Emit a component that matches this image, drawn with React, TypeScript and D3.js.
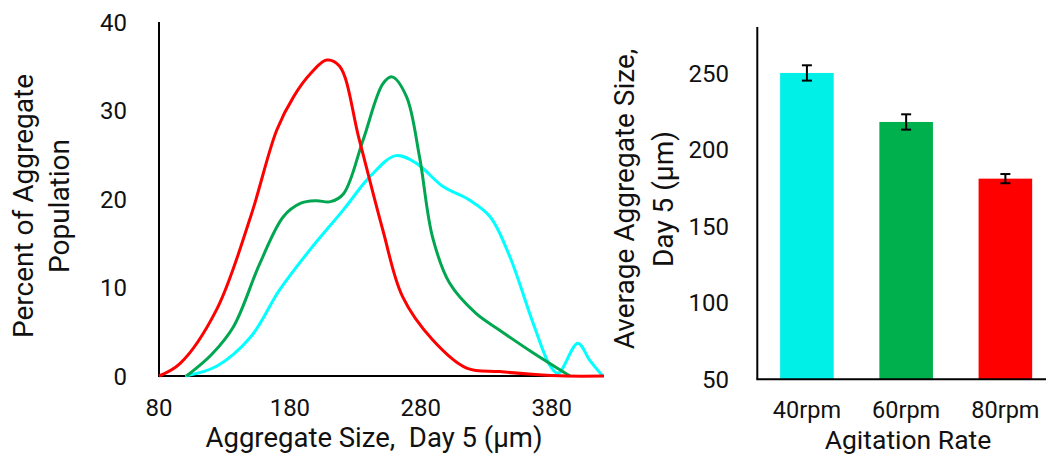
import React from "react";
import * as d3 from "d3";

// ---------- Left chart data: size distribution (Day 5) ----------
const xTicks = [80, 180, 280, 380];
const yTicksLeft = [0, 10, 20, 30, 40];

const sizes40 = [100, 124, 150, 172, 195, 221, 241, 261, 277, 297, 317, 333, 348, 366, 379, 385, 400, 409, 419];
const pct40 = [0, 1.1, 4.4, 9.7, 14.2, 18.8, 22.5, 24.9, 24, 21.4, 19.9, 18, 13.5, 5.9, 1.1, 0.3, 3.7, 1.8, 0];

const sizes60 = [101, 120, 137, 157, 175, 188, 200, 211, 221, 236, 251, 258, 269, 279, 289, 302, 322, 340, 366, 394];
const pct60 = [0, 2.4, 5.6, 12.7, 18, 19.5, 19.8, 19.7, 20.6, 26.7, 33, 33.8, 31.6, 24.8, 15.7, 10.5, 7.1, 5.2, 2.6, 0];

const sizes80 = [80, 96, 124, 150, 170, 183, 196, 208, 218, 233, 251, 266, 289, 315, 340, 365, 391, 420];
const pct80 = [0, 1.4, 7.5, 18, 27.8, 31.6, 34.2, 35.7, 35, 26.7, 16.5, 9, 4.1, 0.9, 0.5, 0.2, 0, 0];

// ---------- Right chart data: average size by agitation rate ----------
const rates = ["40rpm", "60rpm", "80rpm"];
const avgSize = [250, 218, 181];
const avgErr = [5, 5, 3];
const yTicksRight = [50, 100, 150, 200, 250];

const COLORS = { c40: "#00FFFF", c60: "#00A650", c80: "#FF0000" };
const BAR_COLORS = ["#00F0E8", "#00B04C", "#FF0000"];
const FONT = "Roboto, 'Noto Sans', sans-serif";

export default function App() {
  const W = 1046, H = 457;

  // left scales
  const x = d3.scaleLinear().domain([80, 420]).range([159, 604]);
  const y = d3.scaleLinear().domain([0, 40]).range([376, 22]);
  const line = d3
    .line<[number, number]>()
    .x((d) => x(d[0]))
    .y((d) => Math.min(y(0), y(d[1])))
    .curve(d3.curveCatmullRom.alpha(0.5));
  const series = [
    { xs: sizes40, ys: pct40, color: COLORS.c40 },
    { xs: sizes60, ys: pct60, color: COLORS.c60 },
    { xs: sizes80, ys: pct80, color: COLORS.c80 },
  ];

  // right scales
  const xb = d3.scaleBand().domain(rates).range([757.3, 1055]).paddingInner(0.46).paddingOuter(0.23);
  const yb = d3.scaleLinear().domain([50, 280]).range([379.3, 27]);

  return (
    <svg width={W} height={H} style={{ position: "absolute", left: 0, top: 0, background: "#fff" }} fontFamily={FONT}>
      <rect x={0} y={0} width={W} height={H} fill="#fff" />
      {/* ----- left chart ----- */}
      <g>
        {yTicksLeft.map((t) => (
          <text key={t} x={127} y={y(t)} dy="0.36em" textAnchor="end" fontSize={24} fill="#111">
            {t}
          </text>
        ))}
        {xTicks.map((t) => (
          <text key={t} x={x(t)} y={416} textAnchor="middle" fontSize={24} fill="#111">
            {t}
          </text>
        ))}
        <text x={374} y={447} textAnchor="middle" fontSize={27.5} fill="#111">
          {"Aggregate Size,\u00A0 Day 5 (µm)"}
        </text>
        <text transform="translate(33,206) rotate(-90)" textAnchor="middle" fontSize={28} fill="#111">
          Percent of Aggregate
        </text>
        <text transform="translate(69,206) rotate(-90)" textAnchor="middle" fontSize={28} fill="#111">
          Population
        </text>
        <line x1={159} x2={159} y1={y(40)} y2={y(0)} stroke="#000" strokeWidth={2} />
        <line x1={158} x2={604} y1={y(0)} y2={y(0)} stroke="#000" strokeWidth={2} />
        {series.map((s, i) => (
          <path
            key={i}
            d={line(s.xs.map((v, j) => [v, s.ys[j]] as [number, number])) || ""}
            fill="none"
            stroke={s.color}
            strokeWidth={3}
            strokeLinejoin="round"
          />
        ))}
      </g>
      {/* ----- right chart ----- */}
      <g>
        {yTicksRight.map((t) => (
          <text key={t} x={729} y={yb(t)} dy="0.36em" textAnchor="end" fontSize={24} fill="#111">
            {t}
          </text>
        ))}
        {rates.map((r, i) => (
          <rect
            key={r}
            x={xb(r)!}
            y={yb(avgSize[i])}
            width={xb.bandwidth()}
            height={yb(50) - yb(avgSize[i])}
            fill={BAR_COLORS[i]}
          />
        ))}
        {rates.map((r, i) => {
          const cx = xb(r)! + xb.bandwidth() / 2;
          const top = yb(avgSize[i] + avgErr[i]);
          const bot = yb(avgSize[i] - avgErr[i]);
          return (
            <g key={r} stroke="#000" strokeWidth={2}>
              <line x1={cx} x2={cx} y1={top} y2={bot} />
              <line x1={cx - 5} x2={cx + 5} y1={top} y2={top} />
              <line x1={cx - 5} x2={cx + 5} y1={bot} y2={bot} />
            </g>
          );
        })}
        <line x1={757.3} x2={757.3} y1={yb(280)} y2={yb(50)} stroke="#000" strokeWidth={2} />
        <line x1={756.3} x2={W} y1={yb(50)} y2={yb(50)} stroke="#000" strokeWidth={2} />
        {rates.map((r) => (
          <text key={r} x={xb(r)! + xb.bandwidth() / 2} y={418} textAnchor="middle" fontSize={23.5} fill="#111">
            {r}
          </text>
        ))}
        <text x={908} y={449} textAnchor="middle" fontSize={26.5} fill="#111">
          Agitation Rate
        </text>
        <text transform="translate(634,199) rotate(-90)" textAnchor="middle" fontSize={28} fill="#111">
          Average Aggregate Size,
        </text>
        <text transform="translate(673,199) rotate(-90)" textAnchor="middle" fontSize={28} fill="#111">
          Day 5 (µm)
        </text>
      </g>
    </svg>
  );
}
